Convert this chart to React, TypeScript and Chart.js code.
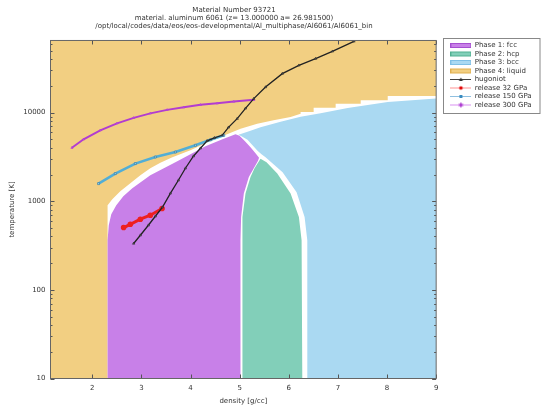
import React, { useEffect, useRef } from 'react';
import { Chart, registerables } from 'chart.js';

Chart.register(...registerables);

// ---------- text ----------
const titleLines = [
  'Material Number 93721',
  'material. aluminum 6061 (z= 13.000000 a= 26.981500)',
  '/opt/local/codes/data/eos/eos-developmental/Al_multiphase/Al6061/Al6061_bin',
];
const xLabel = 'density [g/cc]';
const yLabel = 'temperature [K]';
const xTicks = [2, 3, 4, 5, 6, 7, 8, 9];
const yTicks = [10, 100, 1000, 10000];
const xMin = 1.15;
const xMax = 9;
const yMin = 10;
const yMax = 65000;

// ---------- phase regions (outlines, density g/cc / temperature K) ----------
const liquidD = [1.15, 9, 9, 8.014, 8.014, 7.464, 7.464, 6.954, 6.954, 6.506, 6.506, 6.241, 6.241, 6.037, 5.69, 5.358, 5.018, 4.644, 4.304, 3.998, 3.631, 3.386, 3.182, 2.979, 2.775, 2.571, 2.408, 2.312, 2.312, 1.15];
const liquidT = [65000, 65000, 15400, 15400, 13730, 13730, 12530, 12530, 11300, 11300, 10140, 10140, 9660, 8900, 8170, 7494, 6550, 5395, 4498, 3750, 3128, 2713, 2355, 1962, 1593, 1295, 1052, 900, 10, 10];

const fccD = [2.312, 2.312, 2.336, 2.387, 2.489, 2.632, 2.815, 3.182, 3.692, 3.998, 4.304, 4.65, 4.915, 4.997, 5.099, 5.221, 5.323, 5.395, 5.374, 5.187, 5.085, 5.03, 5.017, 5.017];
const fccT = [10, 362, 536, 713, 900, 1137, 1398, 1958, 2747, 3381, 4157, 4990, 5680, 5457, 4798, 4056, 3467, 3083, 2858, 1875, 1219, 664, 362, 10];

const hcpD = [5.052, 5.052, 5.062, 5.119, 5.221, 5.303, 5.425, 5.547, 5.766, 6.037, 6.206, 6.261, 6.275];
const hcpT = [10, 362, 664, 1219, 1875, 2350, 3020, 2747, 2047, 1219, 664, 362, 10];

const bccD = [4.977, 5.221, 5.425, 5.833, 6.241, 6.648, 7.199, 8.014, 9, 9, 6.377, 6.377, 6.322, 6.159, 5.874, 5.527, 5.445, 5.364, 5.262, 5.16, 5.038];
const bccT = [5610, 6225, 6810, 7855, 8950, 9800, 11250, 13130, 14360, 10, 10, 362, 664, 1259, 2118, 3126, 3381, 3700, 4266, 4920, 5395];

// ---------- curves ----------
const hugD = [2.842, 2.979, 3.142, 3.284, 3.427, 3.59, 3.753, 3.896, 4.059, 4.202, 4.338, 4.487, 4.644, 4.773, 4.95, 5.119, 5.288, 5.527, 5.868, 6.206, 6.546, 6.887, 7.327];
const hugT = [333, 413, 535, 676, 854, 1227, 1721, 2353, 3217, 3957, 4801, 5188, 5535, 6808, 8530, 11150, 14350, 19370, 27460, 34070, 40540, 48970, 63490];

const rel32D = [2.638, 2.775, 2.979, 3.182, 3.421];
const rel32T = [504, 549, 626, 694, 826];

const rel150D = [2.128, 2.469, 2.877, 3.284, 3.692, 4.1, 4.406, 4.677];
const rel150T = [1578, 2047, 2655, 3150, 3587, 4268, 4920, 5535];

const rel300D = [1.586, 1.823, 2.163, 2.504, 2.842, 3.182, 3.523, 3.861, 4.202, 4.542, 4.881, 5.289];
const rel300T = [4000, 4990, 6300, 7550, 8710, 9790, 10720, 11440, 12220, 12700, 13280, 13900];

const pts = (d: number[], t: number[]) => d.map((x, i) => ({ x, y: t[i] }));

const C = {
  fcc: '#c880e8',
  hcp: '#82cfb9',
  bcc: '#aad9f2',
  liq: '#f2cf82',
  hug: '#222222',
  r32: '#ee2020',
  r150: '#52aed6',
  r300: '#b23cd0',
};

function symbolCanvas(draw: (g: CanvasRenderingContext2D) => void) {
  const c = document.createElement('canvas');
  c.width = 21;
  c.height = 7;
  const g = c.getContext('2d')!;
  draw(g);
  return c;
}

export default function App() {
  const ref = useRef<HTMLCanvasElement>(null);

  useEffect(() => {
    if (!ref.current) return;
    Chart.defaults.font.family = "'DejaVu Sans', sans-serif";
    Chart.defaults.color = '#333';

    const boxSym = (fill: string, edge: string) =>
      symbolCanvas((g) => {
        g.fillStyle = fill;
        g.fillRect(0, 1, 21, 5);
        g.strokeStyle = edge;
        g.lineWidth = 1;
        g.strokeRect(0.5, 1.5, 20, 4);
      });
    const lineSym = (line: string, marker: (g: CanvasRenderingContext2D) => void) =>
      symbolCanvas((g) => {
        g.strokeStyle = line;
        g.lineWidth = 1;
        g.beginPath();
        g.moveTo(0, 3.5);
        g.lineTo(21, 3.5);
        g.stroke();
        marker(g);
      });

    const symbols = [
      boxSym(C.fcc, '#a650d0'),
      boxSym(C.hcp, '#50b090'),
      boxSym(C.bcc, '#80c0e6'),
      boxSym(C.liq, '#e0b050'),
      lineSym('#444', (g) => {
        g.fillStyle = '#333';
        g.beginPath();
        g.moveTo(10.5, 1.5);
        g.lineTo(12.5, 5);
        g.lineTo(8.5, 5);
        g.closePath();
        g.fill();
      }),
      lineSym('#ff9090', (g) => {
        g.fillStyle = '#e00000';
        g.beginPath();
        g.arc(10.5, 3.5, 1.8, 0, Math.PI * 2);
        g.fill();
      }),
      lineSym('#90c0e0', (g) => {
        g.fillStyle = '#3a8cc0';
        g.fillRect(9, 2, 3, 3);
      }),
      lineSym('#d890f0', (g) => {
        g.strokeStyle = '#a020c8';
        g.beginPath();
        g.moveTo(10.5, 1);
        g.lineTo(10.5, 6);
        g.moveTo(8.5, 2.5);
        g.lineTo(12.5, 4.5);
        g.moveTo(12.5, 2.5);
        g.lineTo(8.5, 4.5);
        g.stroke();
      }),
    ];

    const region = (label: string, d: number[], t: number[], color: string) => ({
      label,
      data: pts(d, t),
      backgroundColor: color,
      borderColor: 'transparent',
      borderWidth: 0,
      pointRadius: 0,
      fill: 'shape',
      tension: 0,
    });

    const framePlugin = {
      id: 'frame',
      afterLayout(chart: any) {
        const t = chart.titleBlock;
        if (t) {
          t.left = 0;
          t.right = 468;
          t.width = 468;
        }
      },
      afterDatasetsDraw(chart: any) {
        const { ctx, chartArea: a, scales } = chart;
        const xs = scales.x;
        const ys = scales.y;
        ctx.save();
        ctx.strokeStyle = '#555';
        ctx.lineWidth = 1;
        ctx.beginPath();
        for (const v of xTicks) {
          const px = Math.round(xs.getPixelForValue(v)) + 0.5;
          ctx.moveTo(px, a.bottom);
          ctx.lineTo(px, a.bottom - 4);
          ctx.moveTo(px, a.top);
          ctx.lineTo(px, a.top + 4);
        }
        for (let e = 1; e <= 4; e++) {
          for (let m = 1; m <= 9; m++) {
            const v = m * Math.pow(10, e);
            if (v < yMin || v > yMax) continue;
            const len = m === 1 ? 4 : 2;
            const py = Math.round(ys.getPixelForValue(v)) + 0.5;
            ctx.moveTo(a.left, py);
            ctx.lineTo(a.left + len, py);
            ctx.moveTo(a.right, py);
            ctx.lineTo(a.right - len, py);
          }
        }
        ctx.stroke();
        ctx.strokeStyle = '#666';
        ctx.strokeRect(a.left, a.top, a.right - a.left, a.bottom - a.top);
        ctx.restore();
      },
      afterDraw(chart: any) {
        const lg = chart.legend;
        if (!lg) return;
        const ctx = chart.ctx;
        const top = Math.round(lg.top - 2) + 0.5;
        const left = Math.round(lg.left - 6) + 0.5;
        ctx.save();
        ctx.strokeStyle = '#888';
        ctx.lineWidth = 1;
        ctx.strokeRect(left, top, chart.width - 1 - left, 75);
        ctx.restore();
      },
    };

    const chart = new Chart(ref.current, {
      type: 'line',
      data: {
        datasets: [
          region('Phase 1: fcc', fccD, fccT, C.fcc),
          region('Phase 2: hcp', hcpD, hcpT, C.hcp),
          region('Phase 3: bcc', bccD, bccT, C.bcc),
          region('Phase 4: liquid', liquidD, liquidT, C.liq),
          {
            label: 'hugoniot',
            data: pts(hugD, hugT),
            borderColor: C.hug,
            borderWidth: 1.3,
            pointStyle: 'triangle',
            pointRadius: 1.4,
            pointBackgroundColor: '#555',
            pointBorderColor: '#222',
            pointBorderWidth: 0.5,
            fill: false,
            tension: 0,
          },
          {
            label: 'release 32 GPa',
            data: pts(rel32D, rel32T),
            borderColor: C.r32,
            borderWidth: 3,
            pointStyle: 'circle',
            pointRadius: 1.3,
            pointBackgroundColor: C.r32,
            pointBorderColor: C.r32,
            fill: false,
            tension: 0,
          },
          {
            label: 'release 150 GPa',
            data: pts(rel150D, rel150T),
            borderColor: C.r150,
            borderWidth: 2.6,
            pointStyle: 'rect',
            pointRadius: 1.4,
            pointBackgroundColor: '#9fd6ee',
            pointBorderColor: '#3a7fa5',
            pointBorderWidth: 0.7,
            fill: false,
            tension: 0,
          },
          {
            label: 'release 300 GPa',
            data: pts(rel300D, rel300T),
            borderColor: C.r300,
            borderWidth: 2,
            pointStyle: 'triangle',
            pointRadius: 1.3,
            pointBackgroundColor: '#c050e0',
            pointBorderColor: C.r300,
            pointBorderWidth: 0.5,
            fill: false,
            tension: 0,
          },
        ] as any,
      },
      options: {
        animation: false,
        responsive: false,
        devicePixelRatio: 1,
        layout: { padding: { left: 0, right: 2, top: 0, bottom: 0 } },
        plugins: {
          filler: { drawTime: 'beforeDatasetsDraw' },
          title: {
            display: true,
            text: titleLines,
            color: '#333',
            font: { size: 7, lineHeight: 1.17, weight: 'normal' },
            padding: { top: 6.1, bottom: 9.8 },
          },
          legend: {
            display: true,
            position: 'right',
            align: 'start',
            fullSize: false,
            labels: {
              usePointStyle: true,
              pointStyleWidth: 20.5,
              boxHeight: 7,
              padding: 1.5,
              color: '#333',
              font: { size: 7 },
              generateLabels: (ch: any) =>
                ch.data.datasets.map((ds: any, i: number) => ({
                  text: ds.label,
                  pointStyle: symbols[i],
                  fillStyle: 'transparent',
                  strokeStyle: 'transparent',
                  lineWidth: 0,
                  hidden: false,
                  datasetIndex: i,
                  fontColor: '#333',
                })),
            },
          },
          tooltip: { enabled: false },
        },
        scales: {
          x: {
            type: 'linear',
            min: xMin,
            max: xMax,
            grid: { display: false, drawTicks: false },
            border: { display: false },
            afterBuildTicks: (s: any) => {
              s.ticks = xTicks.map((v) => ({ value: v }));
            },
            afterFit: (s: any) => {
              s.height = 26.5;
            },
            ticks: {
              padding: 5.6,
              color: '#333',
              font: { size: 7, lineHeight: 1.2 },
              maxRotation: 0,
              callback: (v: any) => String(v),
            },
            title: {
              display: true,
              text: xLabel,
              color: '#333',
              font: { size: 7, lineHeight: 1 },
              padding: { top: 0, bottom: 0 },
            },
          },
          y: {
            type: 'logarithmic',
            min: yMin,
            max: yMax,
            grid: { display: false, drawTicks: false },
            border: { display: false },
            afterBuildTicks: (s: any) => {
              s.ticks = yTicks.map((v) => ({ value: v }));
            },
            afterFit: (s: any) => {
              s.width = 50.5;
            },
            ticks: {
              padding: 5,
              color: '#333',
              font: { size: 7, lineHeight: 1.2 },
              callback: (v: any) => String(v),
            },
            title: {
              display: true,
              text: yLabel,
              color: '#333',
              font: { size: 7, lineHeight: 1 },
              padding: { top: 8.2, bottom: 0 },
            },
          },
          y2: {
            type: 'linear',
            position: 'right',
            display: true,
            grid: { display: false, drawTicks: false },
            border: { display: false },
            ticks: { display: false },
            afterFit: (s: any) => {
              s.width = 13;
            },
          },
        },
      } as any,
      plugins: [framePlugin],
    });
    return () => chart.destroy();
  }, []);

  return (
    <div style={{ position: 'absolute', left: 0, top: 0, width: 541, height: 405, background: '#fff' }}>
      <canvas ref={ref} width={541} height={405} style={{ display: 'block' }} />
    </div>
  );
}
